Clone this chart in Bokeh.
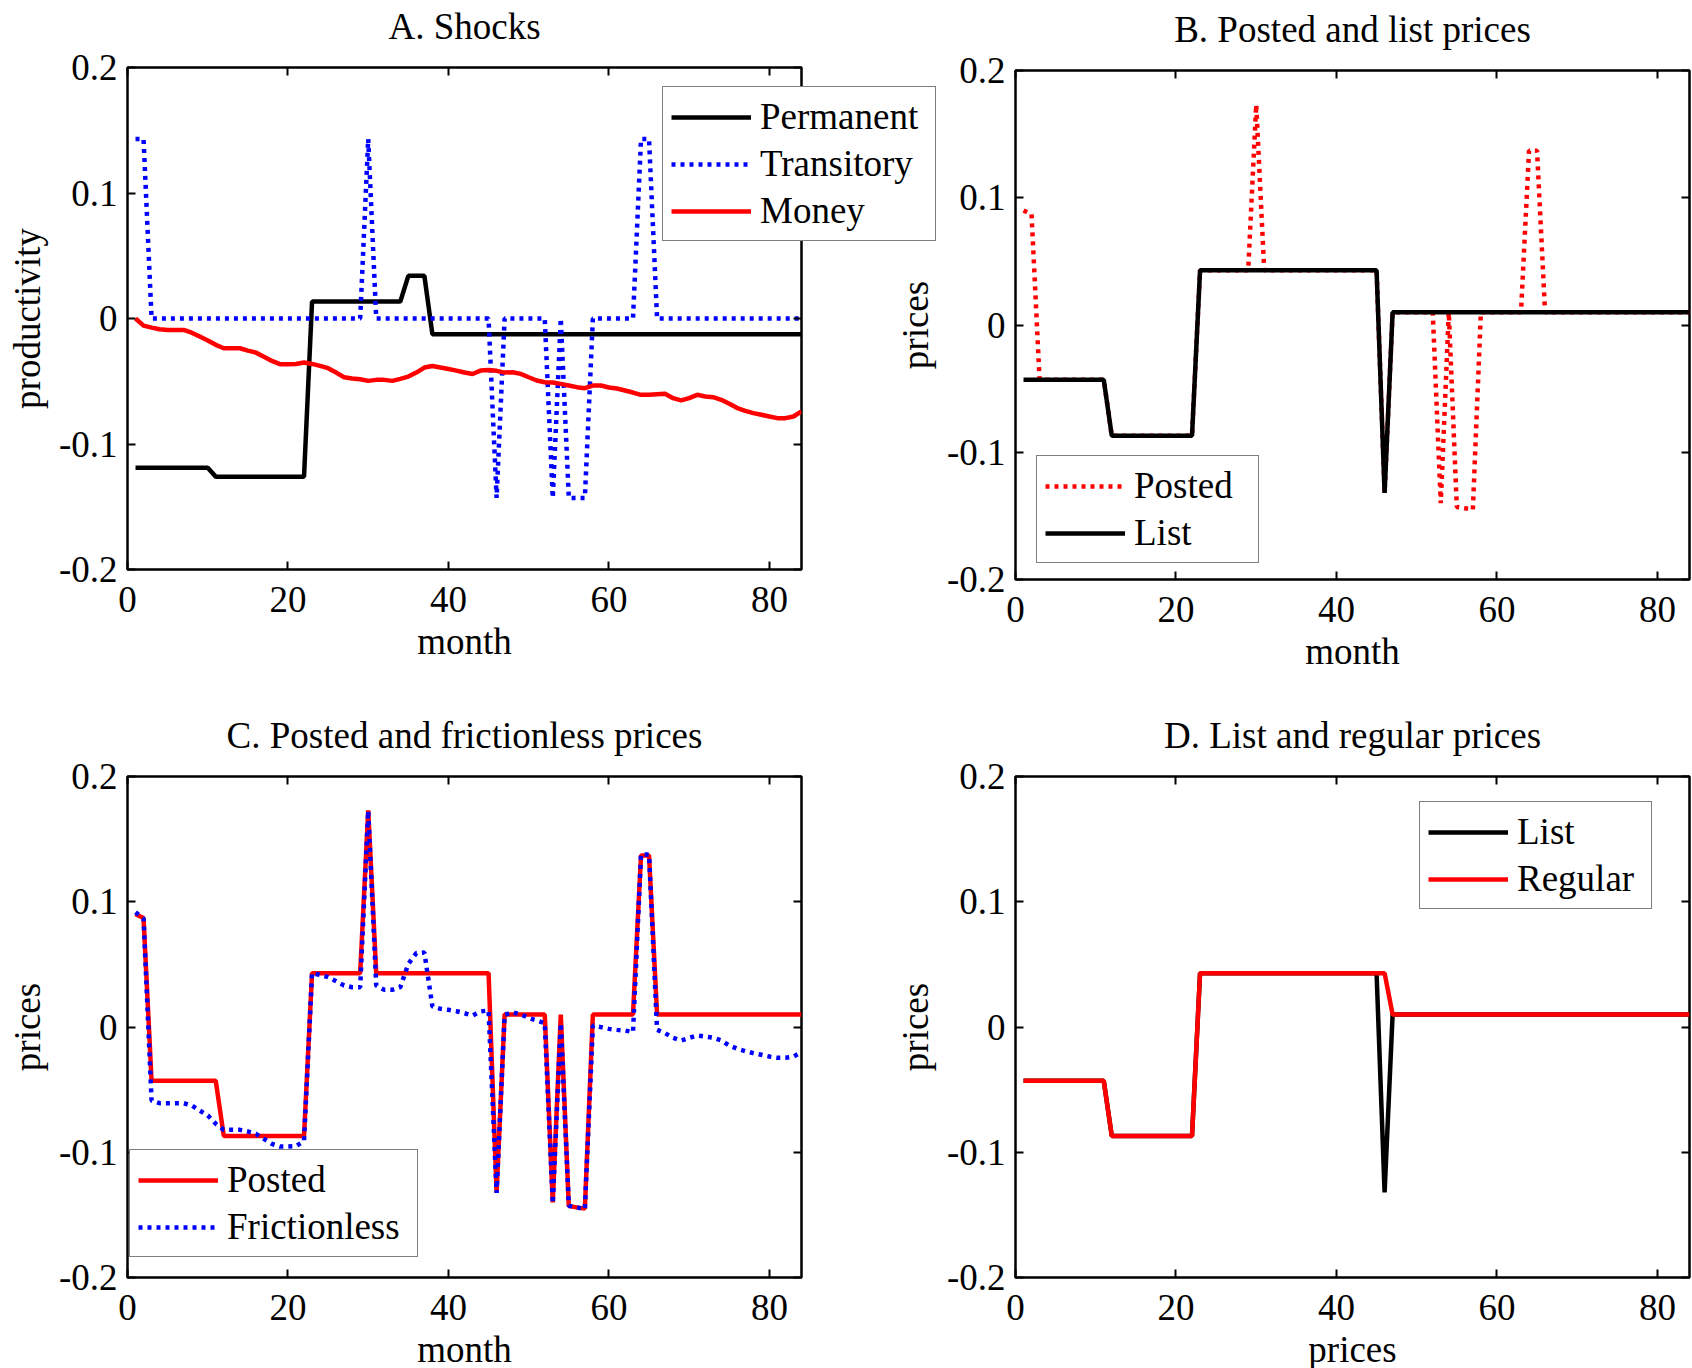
from bokeh.plotting import figure
from bokeh.models import Legend, LegendItem, LinearAxis, FixedTicker, Range1d
from bokeh.layouts import row, column
from bokeh.embed import file_html
from bokeh.resources import INLINE

FONT = "Liberation Serif"
FS = "37px"

months = list(range(1, 85))

permanent = [-0.119, -0.119, -0.119, -0.119, -0.119, -0.119, -0.119, -0.119, -0.119, -0.119,
             -0.126, -0.126, -0.126, -0.126, -0.126, -0.126, -0.126, -0.126, -0.126, -0.126,
             -0.126, -0.126, 0.0135, 0.0135, 0.0135, 0.0135, 0.0135, 0.0135, 0.0135, 0.0135,
             0.0135, 0.0135, 0.0135, 0.0135, 0.034, 0.034, 0.034, -0.0125, -0.0125, -0.0125,
             -0.0125, -0.0125, -0.0125, -0.0125, -0.0125, -0.0125, -0.0125, -0.0125, -0.0125, -0.0125,
             -0.0125, -0.0125, -0.0125, -0.0125, -0.0125, -0.0125, -0.0125, -0.0125, -0.0125, -0.0125,
             -0.0125, -0.0125, -0.0125, -0.0125, -0.0125, -0.0125, -0.0125, -0.0125, -0.0125, -0.0125,
             -0.0125, -0.0125, -0.0125, -0.0125, -0.0125, -0.0125, -0.0125, -0.0125, -0.0125, -0.0125,
             -0.0125, -0.0125, -0.0125, -0.0125]

transitory = [0.143, 0.143, 0, 0, 0, 0, 0, 0, 0, 0,
              0, 0, 0, 0, 0, 0, 0, 0, 0, 0,
              0, 0, 0, 0, 0, 0, 0, 0, 0, 0.143,
              0, 0, 0, 0, 0, 0, 0, 0, 0, 0,
              0, 0, 0, 0, 0, -0.143, 0, 0, 0, 0,
              0, 0, -0.143, 0, -0.143, -0.143, -0.143, 0, 0, 0,
              0, 0, 0, 0.143, 0.143, 0, 0, 0, 0, 0,
              0, 0, 0, 0, 0, 0, 0, 0, 0, 0,
              0, 0, 0, 0]

money = [0.000, -0.0057, -0.0073, -0.0086, -0.0091, -0.0091, -0.0091, -0.0113, -0.0144, -0.0176,
         -0.0210, -0.0237, -0.0237, -0.0237, -0.0256, -0.0272, -0.0304, -0.0338, -0.0364, -0.0364,
         -0.0362, -0.0351, -0.0362, -0.0378, -0.0396, -0.0431, -0.0468, -0.0478, -0.0484, -0.0497,
         -0.0489, -0.0489, -0.0497, -0.0481, -0.0463, -0.0431, -0.0391, -0.0378, -0.0391, -0.0402,
         -0.0415, -0.0430, -0.0442, -0.0415, -0.0410, -0.0417, -0.0431, -0.0428, -0.0441, -0.0468,
         -0.0494, -0.0508, -0.0510, -0.0521, -0.0534, -0.0547, -0.0555, -0.0534, -0.0534, -0.0550,
         -0.0558, -0.0574, -0.0590, -0.0608, -0.0608, -0.0603, -0.0600, -0.0635, -0.0653, -0.0635,
         -0.0608, -0.0622, -0.0627, -0.0648, -0.0680, -0.0714, -0.0736, -0.0754, -0.0767, -0.0781,
         -0.0794, -0.0794, -0.0781, -0.0741]

posted = [0.090, 0.087, -0.043, -0.043, -0.043, -0.043, -0.043, -0.043, -0.043, -0.043,
          -0.043, -0.087, -0.087, -0.087, -0.087, -0.087, -0.087, -0.087, -0.087, -0.087,
          -0.087, -0.087, 0.043, 0.043, 0.043, 0.043, 0.043, 0.043, 0.043, 0.173,
          0.043, 0.043, 0.043, 0.043, 0.043, 0.043, 0.043, 0.043, 0.043, 0.043,
          0.043, 0.043, 0.043, 0.043, 0.043, -0.132, 0.010, 0.010, 0.010, 0.010,
          0.010, 0.010, -0.140, 0.010, -0.143, -0.144, -0.145, 0.010, 0.010, 0.010,
          0.010, 0.010, 0.010, 0.137, 0.137, 0.010, 0.010, 0.010, 0.010, 0.010,
          0.010, 0.010, 0.010, 0.010, 0.010, 0.010, 0.010, 0.010, 0.010, 0.010,
          0.010, 0.010, 0.010, 0.010]

list_price = [-0.043, -0.043, -0.043, -0.043, -0.043, -0.043, -0.043, -0.043, -0.043, -0.043,
              -0.043, -0.087, -0.087, -0.087, -0.087, -0.087, -0.087, -0.087, -0.087, -0.087,
              -0.087, -0.087, 0.043, 0.043, 0.043, 0.043, 0.043, 0.043, 0.043, 0.043,
              0.043, 0.043, 0.043, 0.043, 0.043, 0.043, 0.043, 0.043, 0.043, 0.043,
              0.043, 0.043, 0.043, 0.043, 0.043, -0.132, 0.010, 0.010, 0.010, 0.010,
              0.010, 0.010, 0.010, 0.010, 0.010, 0.010, 0.010, 0.010, 0.010, 0.010,
              0.010, 0.010, 0.010, 0.010, 0.010, 0.010, 0.010, 0.010, 0.010, 0.010,
              0.010, 0.010, 0.010, 0.010, 0.010, 0.010, 0.010, 0.010, 0.010, 0.010,
              0.010, 0.010, 0.010, 0.010]

regular = [-0.043, -0.043, -0.043, -0.043, -0.043, -0.043, -0.043, -0.043, -0.043, -0.043,
           -0.043, -0.087, -0.087, -0.087, -0.087, -0.087, -0.087, -0.087, -0.087, -0.087,
           -0.087, -0.087, 0.043, 0.043, 0.043, 0.043, 0.043, 0.043, 0.043, 0.043,
           0.043, 0.043, 0.043, 0.043, 0.043, 0.043, 0.043, 0.043, 0.043, 0.043,
           0.043, 0.043, 0.043, 0.043, 0.043, 0.043, 0.010, 0.010, 0.010, 0.010,
           0.010, 0.010, 0.010, 0.010, 0.010, 0.010, 0.010, 0.010, 0.010, 0.010,
           0.010, 0.010, 0.010, 0.010, 0.010, 0.010, 0.010, 0.010, 0.010, 0.010,
           0.010, 0.010, 0.010, 0.010, 0.010, 0.010, 0.010, 0.010, 0.010, 0.010,
           0.010, 0.010, 0.010, 0.010]

frictionless = [0.0916, 0.0864, -0.0587, -0.0608, -0.0608, -0.0608, -0.0608, -0.0626, -0.0667, -0.0706,
                -0.0773, -0.0821, -0.0821, -0.0821, -0.0834, -0.0853, -0.0893, -0.0933, -0.0954, -0.0954,
                -0.0951, -0.0911, 0.0430, 0.0416, 0.0398, 0.0366, 0.0331, 0.0318, 0.0318, 0.1727,
                0.0331, 0.0297, 0.0297, 0.0318, 0.0504, 0.0590, 0.0595, 0.0164, 0.0145, 0.0137,
                0.0126, 0.0110, 0.0092, 0.0124, 0.0132, -0.1325, 0.0097, 0.0118, 0.0100, 0.0073,
                0.0052, 0.0031, -0.1410, 0.0030, -0.1427, -0.1440, -0.1455, 0.0012, -0.0001, -0.0015,
                -0.0023, -0.0028, -0.0041, 0.1377, 0.1377, -0.0023, -0.0049, -0.0086, -0.0108, -0.0086,
                -0.0068, -0.0076, -0.0086, -0.0108, -0.0148, -0.0174, -0.0193, -0.0209, -0.0222, -0.0236,
                -0.0246, -0.0246, -0.0236, -0.0201]

x_ticks = [0, 20, 40, 60, 80]
y_ticks = [-0.2, -0.1, 0, 0.1, 0.2]
y_tick_labels = ["-0.2", "-0.1", "0", "0.1", "0.2"]

BLACK = "#000000"
BLUE = "#0000FF"
RED = "#FF0000"
LW = 4.5
DOT = "4 5"
PAGE_W = 1692
TOP_ROW_H = 680
TOP_SHIFT = 25   # top row is pulled up so that the titles sit higher above the frames
B_DROP = 3       # panel B's frame sits a little lower than panel A's


def style_axis(ax, ticks, labels=None, visible_labels=True):
    ax.ticker = FixedTicker(ticks=ticks)
    ax.axis_line_color = None
    ax.major_tick_in = 8
    ax.major_tick_out = 0
    ax.major_tick_line_width = 2
    ax.major_tick_line_color = "black"
    ax.minor_tick_line_color = None
    ax.major_label_text_font = FONT
    ax.major_label_text_color = "black"
    ax.axis_label_text_font = FONT
    ax.axis_label_text_font_size = FS
    ax.axis_label_text_font_style = "normal"
    ax.axis_label_text_color = "black"
    if visible_labels:
        ax.major_label_text_font_size = FS
        if labels is not None:
            ax.major_label_overrides = {t: l for t, l in zip(ticks, labels)}
    else:
        ax.major_label_text_font_size = "0px"
        ax.major_label_standoff = 0
        ax.major_label_overrides = {t: "" for t in ticks}


def make_fig(title, xlab, ylab, fh, top, bottom, left, right):
    p = figure(frame_width=674, frame_height=fh,
               min_border_top=top, min_border_bottom=bottom,
               min_border_left=left, min_border_right=right,
               x_range=Range1d(0, 84), y_range=Range1d(-0.2, 0.2),
               output_backend="svg", toolbar_location=None, title=title)
    p.title.text_font = FONT
    p.title.text_font_size = FS
    p.title.text_font_style = "normal"
    p.title.text_color = "black"
    p.title.align = "center"
    p.title.standoff = 42
    p.border_fill_color = None
    p.background_fill_color = None
    p.outline_line_color = "black"
    p.outline_line_width = 2.5
    p.xgrid.grid_line_color = None
    p.ygrid.grid_line_color = None
    xa = p.xaxis[0]
    ya = p.yaxis[0]
    style_axis(xa, x_ticks)
    style_axis(ya, y_ticks, y_tick_labels)
    xa.axis_label = xlab
    ya.axis_label = ylab
    xa.major_label_standoff = 17
    ya.major_label_standoff = 10
    xa.axis_label_standoff = 6
    ya.axis_label_standoff = 8
    top_ax = LinearAxis()
    style_axis(top_ax, x_ticks, visible_labels=False)
    p.add_layout(top_ax, "above")
    right_ax = LinearAxis()
    style_axis(right_ax, y_ticks, visible_labels=False)
    p.add_layout(right_ax, "right")
    return p


def make_legend(items, loc, label_width):
    return Legend(items=items, location=loc,
                  label_text_font=FONT, label_text_font_size=FS, label_text_color="black",
                  glyph_width=80, glyph_height=20, label_standoff=9, label_width=label_width,
                  padding=8, spacing=4, margin=0,
                  border_line_color="black", border_line_width=1.5,
                  background_fill_color="white", background_fill_alpha=1.0)


# Panel A
pA = make_fig("A. Shocks", "month", "productivity", 502, 67 + TOP_SHIFT, 111, 127, 45)
rA1 = pA.line(months, permanent, line_color=BLACK, line_width=LW)
rA2 = pA.line(months, transitory, line_color=BLUE, line_width=LW, line_dash=DOT)
rA3 = pA.line(months, money, line_color=RED, line_width=LW)

# Panel B
pB = make_fig("B. Posted and list prices", "month", "prices", 509, 67 + TOP_SHIFT, 101, 169, 3)
rB1 = pB.line(months, posted, line_color=RED, line_width=LW, line_dash=DOT)
rB2 = pB.line(months, list_price, line_color=BLACK, line_width=LW)
pB.add_layout(make_legend([LegendItem(label="Posted", renderers=[rB1]),
                           LegendItem(label="List", renderers=[rB2])], (21, 16), 116), "center")
pB.margin = (B_DROP, 0, 0, 0)

top_row = row(pA, pB)
top_row.margin = (-TOP_SHIFT, 0, 0, 0)

# Panel A's legend box reaches past panel A's frame (annotations are clipped to
# their frame), so it is drawn by a transparent full-width overlay laid over the
# top row, with the same line styles; its own lines lie outside its ranges.
pLeg = figure(width=PAGE_W, height=TOP_ROW_H, min_border_top=0, min_border_bottom=0,
              min_border_left=0, min_border_right=0,
              x_range=Range1d(1000, 1001), y_range=Range1d(1000, 1001),
              x_axis_type=None, y_axis_type=None, title_location=None,
              output_backend="svg", toolbar_location=None)
pLeg.outline_line_color = None
pLeg.border_fill_color = None
pLeg.background_fill_color = None
pLeg.xgrid.grid_line_color = None
pLeg.ygrid.grid_line_color = None
kA1 = pLeg.line(months, permanent, line_color=BLACK, line_width=LW)
kA2 = pLeg.line(months, transitory, line_color=BLUE, line_width=LW, line_dash=DOT)
kA3 = pLeg.line(months, money, line_color=RED, line_width=LW)
pLeg.add_layout(make_legend([LegendItem(label="Permanent", renderers=[kA1]),
                             LegendItem(label="Transitory", renderers=[kA2]),
                             LegendItem(label="Money", renderers=[kA3])],
                            (662, TOP_ROW_H - 241), 167), "center")
pLeg.margin = (-TOP_ROW_H, 0, 0, 0)

# Panel C
pC = make_fig("C. Posted and frictionless prices", "month", "prices", 501, 96, 91, 127, 45)
rC1 = pC.line(months, posted, line_color=RED, line_width=LW)
rC2 = pC.line(months, frictionless, line_color=BLUE, line_width=LW, line_dash=DOT)
pC.add_layout(make_legend([LegendItem(label="Posted", renderers=[rC1]),
                           LegendItem(label="Frictionless", renderers=[rC2])], (2, 20), 182), "center")

# Panel D
pD = make_fig("D. List and regular prices", "prices", "prices", 501, 96, 91, 169, 3)
rD1 = pD.line(months, list_price, line_color=BLACK, line_width=LW)
rD2 = pD.line(months, regular, line_color=RED, line_width=LW)
pD.add_layout(make_legend([LegendItem(label="List", renderers=[rD1]),
                           LegendItem(label="Regular", renderers=[rD2])], (404, 368), 126), "center")

layout = column(top_row, pLeg, row(pC, pD))
open("out.html", "w").write(file_html(layout, INLINE))
